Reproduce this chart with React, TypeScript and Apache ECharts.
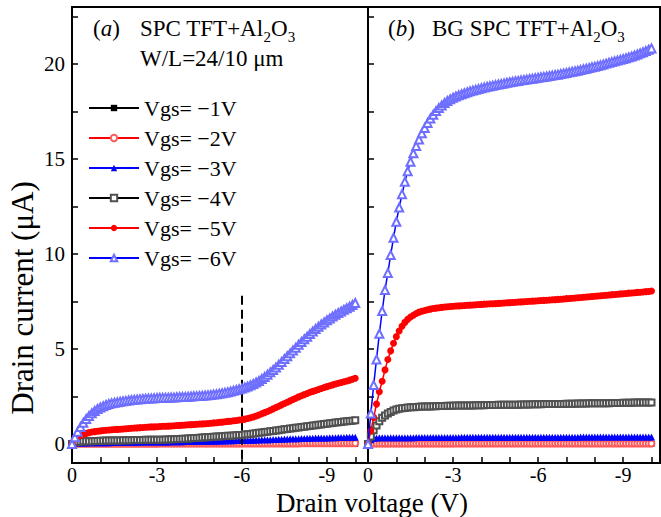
import React, { useEffect, useRef } from 'react';
import * as echarts from 'echarts';

// Drain voltage magnitude |Vd| (V), measurement grid 0 … 10 V
const VD = [
  0,
  0.1, 0.2, 0.3, 0.4, 0.5, 0.6, 0.7, 0.8, 0.9, 1.0,
  1.1, 1.2, 1.3, 1.4, 1.5, 1.6, 1.7, 1.8, 1.9, 2.0,
  2.1, 2.2, 2.3, 2.4, 2.5, 2.6, 2.7, 2.8, 2.9, 3.0,
  3.1, 3.2, 3.3, 3.4, 3.5, 3.6, 3.7, 3.8, 3.9, 4.0,
  4.1, 4.2, 4.3, 4.4, 4.5, 4.6, 4.7, 4.8, 4.9, 5.0,
  5.1, 5.2, 5.3, 5.4, 5.5, 5.6, 5.7, 5.8, 5.9, 6.0,
  6.1, 6.2, 6.3, 6.4, 6.5, 6.6, 6.7, 6.8, 6.9, 7.0,
  7.1, 7.2, 7.3, 7.4, 7.5, 7.6, 7.7, 7.8, 7.9, 8.0,
  8.1, 8.2, 8.3, 8.4, 8.5, 8.6, 8.7, 8.8, 8.9, 9.0,
  9.1, 9.2, 9.3, 9.4, 9.5, 9.6, 9.7, 9.8, 9.9, 10.0,
];

// Panel (a): SPC TFT + Al2O3 — drain current (µA)
const A1 = [
  0,
  0, 0, 0, 0, 0, 0, 0, 0, 0, 0,
  0, 0, 0, 0, 0, 0, 0, 0, 0, 0,
  0, 0, 0, 0, 0, 0, 0, 0, 0, 0,
  0, 0, 0, 0, 0, 0, 0, 0, 0, 0,
  0, 0, 0, 0, 0, 0, 0, 0, 0, 0,
  0.01, 0.01, 0.01, 0.01, 0.01, 0.01, 0.01, 0.01, 0.01, 0.01,
  0.01, 0.01, 0.01, 0.01, 0.01, 0.01, 0.01, 0.01, 0.01, 0.01,
  0.01, 0.01, 0.01, 0.01, 0.01, 0.01, 0.01, 0.01, 0.01, 0.01,
  0.01, 0.01, 0.01, 0.01, 0.01, 0.01, 0.01, 0.01, 0.01, 0.01,
  0.01, 0.01, 0.01, 0.01, 0.01, 0.01, 0.01, 0.01, 0.01, 0.01,
];
const A2 = [
  0,
  0.01, 0.01, 0.01, 0.01, 0.01, 0.01, 0.01, 0.01, 0.01, 0.01,
  0.01, 0.01, 0.01, 0.01, 0.01, 0.01, 0.01, 0.01, 0.01, 0.01,
  0.01, 0.01, 0.01, 0.01, 0.01, 0.01, 0.01, 0.01, 0.01, 0.01,
  0.02, 0.02, 0.02, 0.02, 0.02, 0.02, 0.02, 0.02, 0.02, 0.02,
  0.02, 0.02, 0.02, 0.02, 0.02, 0.02, 0.02, 0.02, 0.02, 0.02,
  0.02, 0.02, 0.02, 0.02, 0.02, 0.02, 0.02, 0.02, 0.02, 0.02,
  0.03, 0.03, 0.03, 0.03, 0.03, 0.03, 0.03, 0.03, 0.03, 0.03,
  0.03, 0.03, 0.03, 0.03, 0.03, 0.03, 0.03, 0.03, 0.03, 0.03,
  0.04, 0.04, 0.04, 0.04, 0.04, 0.04, 0.04, 0.04, 0.04, 0.04,
  0.04, 0.04, 0.04, 0.04, 0.04, 0.04, 0.04, 0.04, 0.04, 0.04,
];
const A3 = [
  0,
  0.03, 0.04, 0.05, 0.05, 0.05, 0.06, 0.06, 0.06, 0.06, 0.07,
  0.07, 0.07, 0.07, 0.08, 0.08, 0.08, 0.08, 0.08, 0.09, 0.09,
  0.09, 0.09, 0.09, 0.1, 0.1, 0.1, 0.1, 0.1, 0.1, 0.11,
  0.11, 0.11, 0.11, 0.11, 0.12, 0.12, 0.12, 0.12, 0.12, 0.13,
  0.13, 0.13, 0.13, 0.14, 0.14, 0.14, 0.14, 0.15, 0.15, 0.15,
  0.15, 0.16, 0.16, 0.16, 0.17, 0.17, 0.17, 0.18, 0.18, 0.18,
  0.19, 0.19, 0.2, 0.2, 0.21, 0.21, 0.22, 0.22, 0.23, 0.23,
  0.24, 0.24, 0.25, 0.25, 0.26, 0.26, 0.27, 0.27, 0.28, 0.28,
  0.29, 0.29, 0.3, 0.3, 0.3, 0.31, 0.31, 0.32, 0.32, 0.32,
  0.33, 0.33, 0.33, 0.34, 0.34, 0.34, 0.35, 0.35, 0.35, 0.36,
];
const A4 = [
  0,
  0.08, 0.11, 0.13, 0.14, 0.14, 0.15, 0.15, 0.16, 0.16, 0.17,
  0.17, 0.18, 0.18, 0.18, 0.19, 0.19, 0.19, 0.2, 0.2, 0.2,
  0.2, 0.21, 0.21, 0.21, 0.21, 0.22, 0.22, 0.22, 0.22, 0.23,
  0.23, 0.23, 0.24, 0.24, 0.25, 0.25, 0.26, 0.26, 0.27, 0.28,
  0.29, 0.3, 0.31, 0.32, 0.33, 0.34, 0.35, 0.36, 0.37, 0.38,
  0.39, 0.4, 0.41, 0.42, 0.43, 0.44, 0.45, 0.46, 0.47, 0.48,
  0.5, 0.51, 0.53, 0.55, 0.57, 0.59, 0.61, 0.63, 0.65, 0.67,
  0.69, 0.71, 0.73, 0.75, 0.77, 0.79, 0.81, 0.83, 0.85, 0.87,
  0.89, 0.91, 0.93, 0.95, 0.97, 0.99, 1.01, 1.03, 1.05, 1.07,
  1.09, 1.11, 1.13, 1.14, 1.16, 1.18, 1.2, 1.21, 1.23, 1.25,
];
const A5 = [
  0,
  0.25, 0.38, 0.46, 0.52, 0.56, 0.6, 0.63, 0.65, 0.67, 0.69,
  0.71, 0.72, 0.74, 0.75, 0.76, 0.77, 0.78, 0.79, 0.8, 0.82,
  0.83, 0.84, 0.85, 0.86, 0.87, 0.88, 0.89, 0.9, 0.9, 0.91,
  0.92, 0.93, 0.93, 0.94, 0.95, 0.96, 0.97, 0.98, 0.99, 1.0,
  1.01, 1.02, 1.03, 1.04, 1.05, 1.06, 1.07, 1.08, 1.09, 1.11,
  1.12, 1.14, 1.15, 1.17, 1.19, 1.2, 1.22, 1.24, 1.26, 1.28,
  1.31, 1.34, 1.38, 1.42, 1.47, 1.53, 1.59, 1.65, 1.71, 1.78,
  1.85, 1.92, 1.99, 2.06, 2.13, 2.2, 2.27, 2.34, 2.41, 2.48,
  2.54, 2.6, 2.66, 2.72, 2.77, 2.82, 2.87, 2.92, 2.97, 3.02,
  3.07, 3.11, 3.16, 3.2, 3.24, 3.28, 3.32, 3.36, 3.41, 3.46,
];
const A6 = [
  0,
  0.35, 0.65, 0.9, 1.12, 1.32, 1.48, 1.62, 1.74, 1.84, 1.92,
  1.99, 2.05, 2.1, 2.14, 2.17, 2.2, 2.23, 2.25, 2.27, 2.29,
  2.31, 2.33, 2.34, 2.36, 2.37, 2.38, 2.39, 2.4, 2.41, 2.42,
  2.43, 2.43, 2.44, 2.44, 2.45, 2.45, 2.46, 2.47, 2.47, 2.48,
  2.49, 2.5, 2.51, 2.52, 2.53, 2.54, 2.55, 2.57, 2.58, 2.6,
  2.62, 2.65, 2.67, 2.7, 2.73, 2.76, 2.8, 2.84, 2.88, 2.92,
  2.97, 3.03, 3.09, 3.16, 3.24, 3.32, 3.42, 3.53, 3.65, 3.77,
  3.9, 4.03, 4.17, 4.32, 4.47, 4.62, 4.77, 4.92, 5.07, 5.22,
  5.37, 5.51, 5.65, 5.79, 5.92, 6.05, 6.17, 6.29, 6.4, 6.51,
  6.61, 6.71, 6.8, 6.89, 6.98, 7.06, 7.14, 7.23, 7.32, 7.42,
];

// Panel (b): BG SPC TFT + Al2O3 — drain current (µA)
const B1 = [
  0,
  0, 0, 0, 0, 0, 0, 0, 0, 0, 0,
  0, 0, 0, 0, 0, 0, 0, 0, 0, 0,
  0, 0, 0, 0, 0, 0, 0, 0, 0, 0,
  0, 0, 0, 0, 0, 0, 0, 0, 0, 0,
  0.01, 0.01, 0.01, 0.01, 0.01, 0.01, 0.01, 0.01, 0.01, 0.01,
  0.01, 0.01, 0.01, 0.01, 0.01, 0.01, 0.01, 0.01, 0.01, 0.01,
  0.01, 0.01, 0.01, 0.01, 0.01, 0.01, 0.01, 0.01, 0.01, 0.01,
  0.01, 0.01, 0.01, 0.01, 0.01, 0.01, 0.01, 0.01, 0.01, 0.01,
  0.01, 0.01, 0.01, 0.01, 0.01, 0.01, 0.01, 0.01, 0.01, 0.01,
  0.01, 0.01, 0.01, 0.01, 0.01, 0.01, 0.01, 0.01, 0.01, 0.01,
];
const B2 = [
  0,
  0.02, 0.02, 0.02, 0.02, 0.02, 0.02, 0.02, 0.02, 0.02, 0.02,
  0.02, 0.02, 0.02, 0.02, 0.02, 0.02, 0.02, 0.02, 0.02, 0.02,
  0.02, 0.02, 0.02, 0.02, 0.02, 0.02, 0.02, 0.02, 0.02, 0.02,
  0.03, 0.03, 0.03, 0.03, 0.03, 0.03, 0.03, 0.03, 0.03, 0.03,
  0.03, 0.03, 0.03, 0.03, 0.03, 0.03, 0.03, 0.03, 0.03, 0.03,
  0.03, 0.03, 0.03, 0.03, 0.03, 0.03, 0.03, 0.03, 0.03, 0.03,
  0.03, 0.03, 0.03, 0.03, 0.03, 0.03, 0.03, 0.03, 0.03, 0.03,
  0.03, 0.03, 0.03, 0.03, 0.03, 0.03, 0.03, 0.03, 0.03, 0.03,
  0.03, 0.03, 0.03, 0.03, 0.03, 0.03, 0.03, 0.03, 0.03, 0.03,
  0.03, 0.03, 0.03, 0.03, 0.03, 0.03, 0.03, 0.03, 0.03, 0.03,
];
const B3 = [
  0,
  0.22, 0.3, 0.32, 0.33, 0.33, 0.33, 0.33, 0.33, 0.33, 0.33,
  0.33, 0.33, 0.33, 0.33, 0.33, 0.33, 0.34, 0.34, 0.34, 0.34,
  0.34, 0.34, 0.34, 0.34, 0.34, 0.34, 0.34, 0.34, 0.34, 0.34,
  0.34, 0.34, 0.35, 0.35, 0.35, 0.35, 0.35, 0.35, 0.35, 0.35,
  0.35, 0.35, 0.35, 0.35, 0.35, 0.35, 0.35, 0.35, 0.35, 0.35,
  0.35, 0.35, 0.36, 0.36, 0.36, 0.36, 0.36, 0.36, 0.36, 0.36,
  0.36, 0.36, 0.36, 0.36, 0.36, 0.36, 0.36, 0.36, 0.36, 0.36,
  0.36, 0.36, 0.36, 0.36, 0.37, 0.37, 0.37, 0.37, 0.37, 0.37,
  0.37, 0.37, 0.37, 0.37, 0.37, 0.37, 0.37, 0.37, 0.37, 0.37,
  0.37, 0.37, 0.37, 0.37, 0.37, 0.37, 0.37, 0.37, 0.37, 0.37,
];
const B4 = [
  0,
  0.4, 0.72, 0.97, 1.2, 1.38, 1.5, 1.6, 1.69, 1.76, 1.81,
  1.85, 1.88, 1.9, 1.92, 1.93, 1.94, 1.95, 1.96, 1.97, 1.97,
  1.98, 1.98, 1.99, 1.99, 2.0, 2.0, 2.0, 2.01, 2.01, 2.01,
  2.02, 2.02, 2.02, 2.03, 2.03, 2.03, 2.03, 2.04, 2.04, 2.04,
  2.04, 2.05, 2.05, 2.05, 2.05, 2.06, 2.06, 2.06, 2.06, 2.07,
  2.07, 2.07, 2.07, 2.08, 2.08, 2.08, 2.08, 2.09, 2.09, 2.09,
  2.09, 2.1, 2.1, 2.1, 2.1, 2.11, 2.11, 2.11, 2.11, 2.12,
  2.12, 2.12, 2.12, 2.13, 2.13, 2.13, 2.13, 2.14, 2.14, 2.14,
  2.14, 2.15, 2.15, 2.15, 2.15, 2.16, 2.16, 2.16, 2.16, 2.17,
  2.17, 2.17, 2.17, 2.18, 2.18, 2.18, 2.18, 2.19, 2.19, 2.19,
];
const B5 = [
  0,
  0.7, 1.4, 2.1, 2.75, 3.3, 3.9, 4.45, 4.9, 5.3, 5.65,
  5.95, 6.2, 6.4, 6.56, 6.68, 6.78, 6.87, 6.94, 6.99, 7.03,
  7.07, 7.1, 7.13, 7.15, 7.17, 7.19, 7.21, 7.22, 7.24, 7.25,
  7.26, 7.27, 7.28, 7.29, 7.3, 7.31, 7.32, 7.33, 7.34, 7.35,
  7.36, 7.37, 7.38, 7.38, 7.39, 7.4, 7.41, 7.42, 7.43, 7.44,
  7.45, 7.46, 7.47, 7.48, 7.49, 7.5, 7.51, 7.52, 7.53, 7.54,
  7.55, 7.56, 7.57, 7.58, 7.59, 7.6, 7.61, 7.62, 7.63, 7.65,
  7.66, 7.67, 7.68, 7.7, 7.71, 7.72, 7.74, 7.75, 7.76, 7.78,
  7.79, 7.8, 7.82, 7.83, 7.84, 7.86, 7.87, 7.88, 7.9, 7.91,
  7.92, 7.94, 7.95, 7.96, 7.98, 7.99, 8.0, 8.02, 8.03, 8.05,
];
const B6 = [
  0,
  1.6, 3.1, 4.45, 5.8, 7.0, 8.1, 9.0, 9.95, 10.85, 11.7,
  12.45, 13.15, 13.8, 14.35, 14.85, 15.3, 15.68, 16.03, 16.35, 16.63,
  16.9, 17.13, 17.33, 17.52, 17.68, 17.82, 17.95, 18.05, 18.14, 18.22,
  18.29, 18.35, 18.41, 18.46, 18.51, 18.56, 18.6, 18.64, 18.68, 18.72,
  18.76, 18.8, 18.83, 18.86, 18.89, 18.92, 18.95, 18.98, 19.01, 19.04,
  19.06, 19.09, 19.11, 19.14, 19.16, 19.18, 19.21, 19.23, 19.25, 19.28,
  19.3, 19.32, 19.34, 19.37, 19.39, 19.42, 19.44, 19.47, 19.5, 19.53,
  19.56, 19.59, 19.62, 19.65, 19.68, 19.72, 19.75, 19.79, 19.83, 19.86,
  19.9, 19.94, 19.98, 20.02, 20.06, 20.1, 20.14, 20.18, 20.22, 20.26,
  20.3, 20.35, 20.4, 20.45, 20.5, 20.56, 20.62, 20.68, 20.75, 20.82,
];

const SERIES_NAMES = ['Vgs= \u22121V', 'Vgs= \u22122V', 'Vgs= \u22123V', 'Vgs= \u22124V', 'Vgs= \u22125V', 'Vgs= \u22126V'];
const PANEL_A = [A1, A2, A3, A4, A5, A6];
const PANEL_B = [B1, B2, B3, B4, B5, B6];

const X_MIN = 0;
const X_MAX_A = 10.45;
const X_MAX_B = 10.3;
const Y_MIN = -1;
const Y_MAX = 23;
const X_TICKS = [0, 1, 2, 3, 4, 5, 6, 7, 8, 9, 10];
const X_LABELS = [0, 3, 6, 9];
const Y_TICKS = [0, 2.5, 5, 7.5, 10, 12.5, 15, 17.5, 20, 22.5];
const Y_LABELS = [0, 5, 10, 15, 20];
const DASH_V = 6;
const DASH_TOP = 7.8;

const FONT = "'Liberation Serif', 'Times New Roman', serif";

const STYLES = [
  { symbol: 'rect', color: '#000000', line: '#000000', size: 6 },
  { symbol: 'emptyCircle', color: '#ff5a5a', line: '#ff0000', size: 6 },
  { symbol: 'triangle', color: '#0000ff', line: '#0000ff', size: 7 },
  { symbol: 'emptyRect', color: '#505050', line: '#000000', size: 6 },
  { symbol: 'circle', color: '#ff0000', line: '#ff0000', size: 7 },
  { symbol: 'emptyTriangle', color: '#6e6eff', line: '#0000ff', size: 8 },
];

function xAxis(gridIndex: number, max: number) {
  return {
    gridIndex,
    type: 'value',
    min: X_MIN,
    max,
    axisLine: { onZero: false, lineStyle: { color: '#000', width: 2 } },
    axisTick: { show: true, inside: true, length: 6, customValues: X_TICKS, lineStyle: { color: '#000', width: 1.5 } },
    axisLabel: {
      show: true,
      customValues: X_LABELS,
      formatter: (v: number) => (v === 0 ? '0' : '-' + v),
      color: '#000',
      fontFamily: FONT,
      fontSize: 20,
      margin: 2,
    },
    splitLine: { show: false },
  };
}

function yAxis(gridIndex: number, labels: boolean) {
  return {
    gridIndex,
    type: 'value',
    min: Y_MIN,
    max: Y_MAX,
    axisLine: { onZero: false, lineStyle: { color: '#000', width: 2 } },
    axisTick: { show: true, inside: true, length: 6, customValues: Y_TICKS, lineStyle: { color: '#000', width: 1.5 } },
    axisLabel: {
      show: labels,
      customValues: Y_LABELS,
      color: '#000',
      fontFamily: FONT,
      fontSize: 21,
      margin: 7,
    },
    splitLine: { show: false },
  };
}

function makeSeries(panel: number[][], idx: number) {
  return panel.map((vals, k) => {
    const st = STYLES[k];
    const s: any = {
      name: SERIES_NAMES[k],
      type: 'line',
      xAxisIndex: idx,
      yAxisIndex: idx,
      data: VD.map((v, i) => [v, vals[i]]),
      symbol: st.symbol,
      symbolSize: st.size,
      showAllSymbol: true,
      lineStyle: { color: st.line, width: 1.5 },
      itemStyle: { color: st.color, borderWidth: 1 },
      emphasis: { disabled: true },
      z: 2 + k,
    };
    if (idx === 0 && k === 0) {
      s.markLine = {
        silent: true,
        symbol: 'none',
        label: { show: false },
        lineStyle: { color: '#000', width: 2, type: [9, 5] },
        data: [[{ coord: [DASH_V, DASH_TOP] }, { coord: [DASH_V, Y_MIN] }]],
      };
    }
    return s;
  });
}

function subTitle(x: number, y: number, pre: string) {
  return {
    type: 'text',
    x,
    y,
    style: {
      text: `{n|${pre}Al}{s|2}{n|O}{s|3}`,
      verticalAlign: 'middle',
      align: 'left',
      rich: {
        n: { fontFamily: FONT, fontSize: 23, fill: '#000' },
        s: { fontFamily: FONT, fontSize: 15, fill: '#000', padding: [17, 0, 0, 0] },
      },
    },
  };
}

function tag(x: number, y: number, letter: string) {
  return {
    type: 'text',
    x,
    y,
    style: {
      text: `{n|(}{i|${letter}}{n|)}`,
      verticalAlign: 'middle',
      align: 'left',
      rich: {
        n: { fontFamily: FONT, fontSize: 23, fill: '#000' },
        i: { fontFamily: FONT, fontSize: 23, fontStyle: 'italic', fill: '#000' },
      },
    },
  };
}

export default function App() {
  const ref = useRef<HTMLDivElement>(null);
  useEffect(() => {
    if (!ref.current) return;
    const chart = echarts.init(ref.current, null, { renderer: 'svg' });
    const option: any = {
      animation: false,
      backgroundColor: '#fff',
      grid: [
        { left: 72, top: 7, width: 296, height: 456, show: true, borderColor: '#000', borderWidth: 2, backgroundColor: 'transparent', containLabel: false, outerBoundsMode: 'none' },
        { left: 368, top: 7, width: 292, height: 456, show: true, borderColor: '#000', borderWidth: 2, backgroundColor: 'transparent', containLabel: false, outerBoundsMode: 'none' },
      ],
      xAxis: [xAxis(0, X_MAX_A), xAxis(1, X_MAX_B)],
      yAxis: [yAxis(0, true), yAxis(1, false)],
      legend: {
        show: true,
        orient: 'vertical',
        left: 88,
        top: 97,
        padding: 0,
        itemWidth: 50,
        itemHeight: 8,
        itemGap: 8,
        selectedMode: false,
        data: SERIES_NAMES,
        textStyle: { fontFamily: FONT, fontSize: 22, color: '#000' },
      },
      series: [...makeSeries(PANEL_A, 0), ...makeSeries(PANEL_B, 1)],
      graphic: [
        tag(93, 28, 'a'),
        subTitle(140, 28, 'SPC TFT+'),
        {
          type: 'text',
          x: 140,
          y: 58,
          style: { text: 'W/L=24/10 \u03bcm', fontFamily: FONT, fontSize: 23, fill: '#000', verticalAlign: 'middle', align: 'left' },
        },
        tag(388, 28, 'b'),
        subTitle(432, 28, 'BG SPC TFT+'),
        {
          type: 'text',
          x: 372,
          y: 503,
          style: { text: 'Drain voltage (V)', fontFamily: FONT, fontSize: 27, fill: '#000', verticalAlign: 'middle', align: 'center' },
        },
        {
          type: 'text',
          x: 22,
          y: 298,
          rotation: Math.PI / 2,
          style: { text: 'Drain current (\u03bcA)', fontFamily: FONT, fontSize: 31, fill: '#000', verticalAlign: 'middle', align: 'center' },
        },
      ],
    };
    chart.setOption(option);
    return () => chart.dispose();
  }, []);
  return <div ref={ref} style={{ position: 'fixed', left: 0, top: 0, width: 661, height: 517 }} />;
}
